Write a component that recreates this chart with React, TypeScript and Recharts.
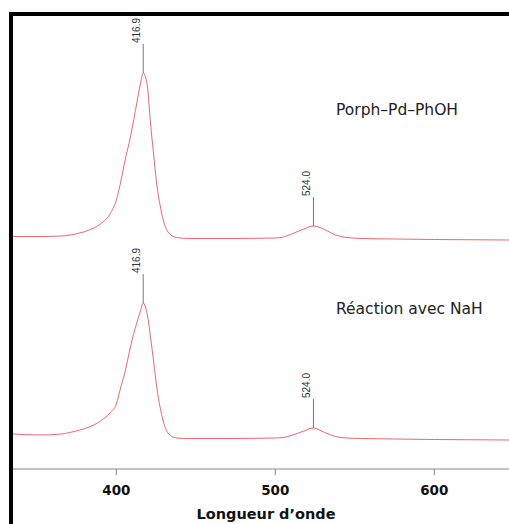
import { LineChart, Line, XAxis, YAxis } from 'recharts';

// wavelength grid (nm) shared by both spectra
const wavelengths = [
  335, 352, 365, 377, 383, 390, 396, 400, 403, 405, 409, 413, 415, 416.9, 419.5, 421.5,
  423.5, 425.5, 427.5, 429.5, 433, 438, 446, 470, 500, 505, 511, 518, 524, 531, 538, 545,
  555, 575, 600, 647,
];

// Porph-Pd-PhOH (offset upward)
const absPorph = [
  0.465, 0.465, 0.466, 0.472, 0.478, 0.49, 0.51, 0.538, 0.578, 0.61, 0.666, 0.734, 0.768,
  0.792, 0.766, 0.692, 0.628, 0.568, 0.528, 0.498, 0.472, 0.463, 0.461, 0.461, 0.462, 0.464,
  0.471, 0.48, 0.486, 0.479, 0.468, 0.463, 0.461, 0.46, 0.459, 0.458,
];

// after reaction with NaH
const absNaH = [
  0.07, 0.068, 0.07, 0.078, 0.084, 0.096, 0.112, 0.13, 0.166, 0.188, 0.246, 0.294, 0.314,
  0.332, 0.308, 0.264, 0.214, 0.162, 0.124, 0.096, 0.07, 0.062, 0.061, 0.061, 0.062, 0.063,
  0.068, 0.076, 0.082, 0.073, 0.065, 0.062, 0.061, 0.06, 0.059, 0.058,
];

const peakLabels = [416.9, 524.0];
const xTicks = [400, 500, 600];

const porphData = wavelengths.map((nm, i) => ({ nm, abs: absPorph[i] }));
const nahData = wavelengths.map((nm, i) => ({ nm, abs: absNaH[i] }));

const LINE_COLOR = '#f06474';

function PeakMarker(props: any) {
  const { cx, cy, payload, index } = props;
  if (!peakLabels.includes(payload.nm)) return <g key={index} />;
  const top = cy - 29;
  const tx = cx - 3;
  const ty = top - 1;
  return (
    <g key={index}>
      <line x1={cx} x2={cx} y1={cy} y2={top} stroke="#777" strokeWidth={1} />
      <text
        x={tx}
        y={ty}
        transform={`rotate(-90 ${tx} ${ty})`}
        fontSize={10}
        fontFamily="'Liberation Sans', Arial, sans-serif"
        fill="#333"
        textAnchor="start"
      >
        {payload.nm.toFixed(1)}
      </text>
    </g>
  );
}

export default function App() {
  return (
    <div
      style={{
        position: 'absolute',
        left: 9,
        top: 12,
        width: 500,
        height: 512,
        borderTop: '4px solid #000',
        borderLeft: '4px solid #000',
        boxSizing: 'border-box',
        background: '#fff',
      }}
    >
      <LineChart width={496} height={508} margin={{ top: 0, right: 0, left: 0, bottom: 0 }}>
        <XAxis
          type="number"
          dataKey="nm"
          domain={[335, 647]}
          ticks={xTicks}
          allowDataOverflow
          height={55}
          stroke="#888"
          tickSize={6}
          tickMargin={10}
          tick={{
            fill: '#111',
            fontSize: 13.5,
            fontWeight: 'bold',
            fontFamily: "'DejaVu Sans', sans-serif",
          }}
          label={{
            value: 'Longueur d’onde',
            position: 'insideBottom',
            offset: 5,
            dx: 5,
            style: {
              fill: '#111',
              fontSize: 14.5,
              fontWeight: 'bold',
              fontFamily: "'DejaVu Sans', sans-serif",
            },
          }}
        />
        <YAxis type="number" domain={[0, 0.906]} hide allowDataOverflow />
        <Line
          data={porphData}
          dataKey="abs"
          type="monotone"
          stroke={LINE_COLOR}
          strokeWidth={1}
          dot={PeakMarker}
          activeDot={false}
          isAnimationActive={false}
        />
        <Line
          data={nahData}
          dataKey="abs"
          type="monotone"
          stroke={LINE_COLOR}
          strokeWidth={1}
          dot={PeakMarker}
          activeDot={false}
          isAnimationActive={false}
        />
        <text x={323} y={99} fontSize={15.5} fontFamily="'DejaVu Sans', sans-serif" fill="#222">
          Porph–Pd–PhOH
        </text>
        <text x={323} y={298} fontSize={15.5} fontFamily="'DejaVu Sans', sans-serif" fill="#222">
          Réaction avec NaH
        </text>
      </LineChart>
    </div>
  );
}
